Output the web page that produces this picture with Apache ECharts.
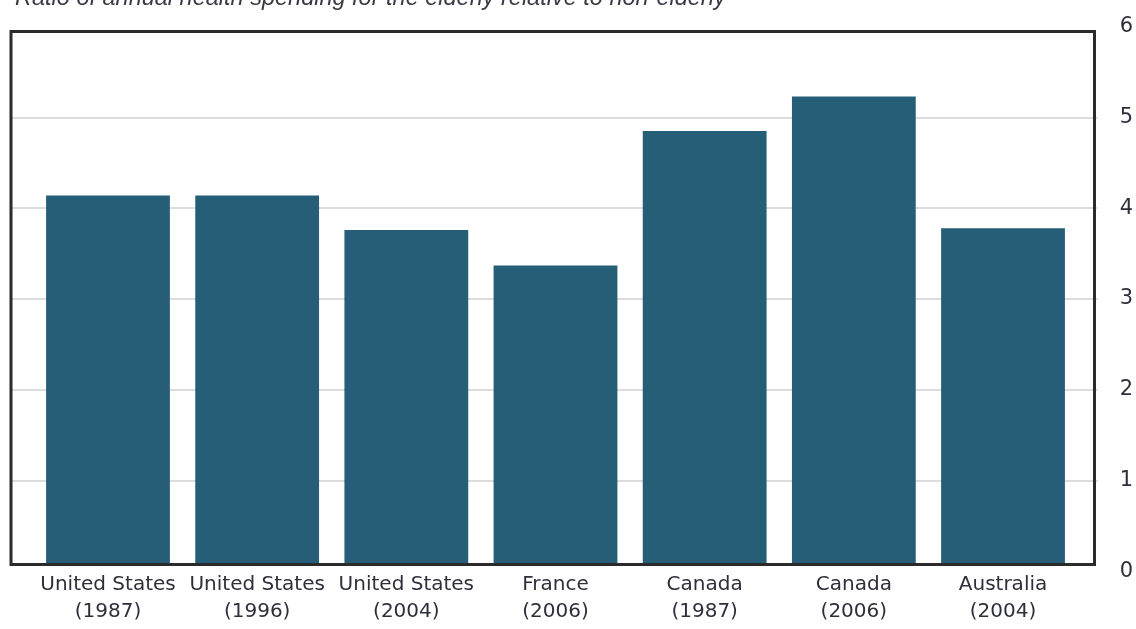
<!DOCTYPE html>
<html>
<head>
<meta charset="utf-8">
<script src="https://cdn.jsdelivr.net/npm/echarts@6/dist/echarts.min.js"></script>
<style>
html,body{margin:0;padding:0;background:#fff;}
#chart{width:1136px;height:629px;}
</style>
</head>
<body>
<div id="chart"></div>
<script>
const titleText = 'Ratio of annual health spending for the elderly relative to non-elderly';
const categories = ['United States\n(1987)', 'United States\n(1996)', 'United States\n(2004)', 'France\n(2006)', 'Canada\n(1987)', 'Canada\n(2006)', 'Australia\n(2004)'];
const ratios = [4.14, 4.14, 3.76, 3.37, 4.85, 5.23, 3.78];
const yTicks = [0, 1, 2, 3, 4, 5, 6];

const labelFont = 'DejaVu Sans';
const textColor = '#2f2f3c';

const chart = echarts.init(document.getElementById('chart'), null, {renderer: 'canvas'});
chart.setOption({
  animation: false,
  backgroundColor: '#ffffff',
  grid: [
    {left: 11, right: 38, top: 26.5, bottom: 57.5},
    {left: 33.4, right: 58.4, top: 31.7, bottom: 65}
  ],
  xAxis: [
    {gridIndex: 0, type: 'value', show: false, min: 0, max: 1},
    {
      gridIndex: 1, type: 'category', data: categories,
      axisLine: {show: false}, axisTick: {show: false},
      axisLabel: {
        interval: 0, margin: 7, fontFamily: labelFont, fontSize: 20,
        lineHeight: 27, color: textColor
      }
    }
  ],
  yAxis: [
    {
      gridIndex: 0, type: 'value', position: 'right',
      min: yTicks[0], max: yTicks[yTicks.length - 1], interval: 1,
      axisLine: {show: false}, axisTick: {show: false},
      splitLine: {show: true, showMinLine: false, showMaxLine: false,
        lineStyle: {color: '#d2d0ce', width: 1.5}},
      axisLabel: {margin: 22, fontFamily: labelFont, fontSize: 21, color: textColor,
        formatter: v => yTicks.includes(v) ? String(v) : ''}
    },
    {
      gridIndex: 1, type: 'value', show: false,
      min: 0.0826, max: 5.943, splitLine: {show: false}
    }
  ],
  series: [{
    type: 'bar', xAxisIndex: 1, yAxisIndex: 1,
    data: ratios, barCategoryGap: '17%', clip: true,
    itemStyle: {color: '#265e78'}
  }],
  graphic: [
    {
      type: 'rect', z: 100, silent: true,
      shape: {x: 11, y: 31.5, width: 1083.5, height: 533},
      style: {fill: 'none', stroke: '#2b2b2b', lineWidth: 3}
    },
    {
      type: 'text', z: 100, left: 15, top: -13,
      style: {text: titleText, fontFamily: 'Liberation Sans', fontStyle: 'italic',
        fontSize: 23.5, fill: '#3a3a44'}
    }
  ]
});
</script>
</body>
</html>
